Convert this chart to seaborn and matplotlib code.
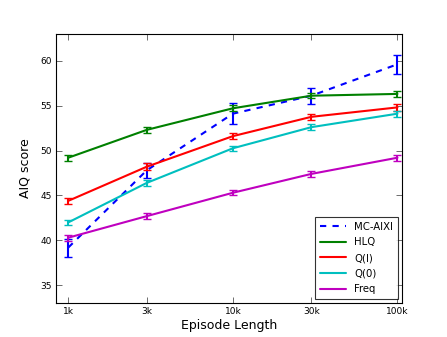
import numpy as np
import pandas as pd
import seaborn as sns
import matplotlib
matplotlib.use("Agg")
import matplotlib.pyplot as plt
from matplotlib.ticker import FixedLocator, FixedFormatter, NullLocator

# data
episode_length = [1000, 3000, 10000, 30000, 100000]
tick_labels = ["1k", "3k", "10k", "30k", "100k"]

mc_aixi = [39.2, 47.8, 54.1, 56.1, 59.6]
mc_aixi_err = [1.0, 0.85, 1.2, 0.9, 1.05]
hlq = [49.2, 52.3, 54.7, 56.1, 56.3]
hlq_err = [0.35, 0.35, 0.35, 0.3, 0.35]
q_l = [44.4, 48.2, 51.6, 53.75, 54.8]
q_l_err = [0.35, 0.4, 0.35, 0.35, 0.4]
q_0 = [42.0, 46.4, 50.25, 52.6, 54.1]
q_0_err = [0.3, 0.35, 0.3, 0.35, 0.35]
freq = [40.3, 42.7, 45.3, 47.4, 49.2]
freq_err = [0.35, 0.3, 0.3, 0.3, 0.35]

names = ["MC-AIXI", "HLQ", "Q(l)", "Q(0)", "Freq"]
series = [mc_aixi, hlq, q_l, q_0, freq]
errors = [mc_aixi_err, hlq_err, q_l_err, q_0_err, freq_err]
colors = ["#0000ff", "#008000", "#ff0000", "#00bfbf", "#bf00bf"]

rows = []
for name, vals in zip(names, series):
    for x, v in zip(episode_length, vals):
        rows.append({"Episode Length": x, "AIQ score": v, "agent": name})
df = pd.DataFrame(rows)

sns.set_style("white")
plt.rcParams["font.family"] = ["DejaVu Sans"]
plt.rcParams["text.color"] = "black"
plt.rcParams["axes.labelcolor"] = "black"
plt.rcParams["xtick.color"] = "black"
plt.rcParams["ytick.color"] = "black"

fig, ax = plt.subplots(figsize=(4.47, 3.37), dpi=100)
fig.subplots_adjust(left=0.125, right=0.9, bottom=0.1, top=0.9)

sns.lineplot(data=df, x="Episode Length", y="AIQ score", hue="agent", style="agent",
             hue_order=names, style_order=names, palette=colors,
             dashes={"MC-AIXI": (3, 3), "HLQ": "", "Q(l)": "", "Q(0)": "", "Freq": ""},
             linewidth=1.5, ax=ax)

for vals, errs, c in zip(series, errors, colors):
    ax.errorbar(episode_length, vals, yerr=errs, fmt="none", ecolor=c,
                elinewidth=1.5, capsize=3, capthick=1)

ax.set_xscale("log")
ax.set_xlim(841, 107000)
ax.set_ylim(33, 63)
ax.xaxis.set_major_locator(FixedLocator(episode_length))
ax.xaxis.set_major_formatter(FixedFormatter(tick_labels))
ax.xaxis.set_minor_locator(NullLocator())
ax.set_yticks([35, 40, 45, 50, 55, 60])

ax.tick_params(direction="in", length=4, width=0.6, labelsize=6.5, color="#555555",
               labelcolor="black", top=True, right=True, bottom=True, left=True, pad=3)
for sp in ax.spines.values():
    sp.set_color("black")
    sp.set_linewidth(0.8)

ax.set_xlabel("Episode Length", fontsize=9, labelpad=2)
ax.set_ylabel("AIQ score", fontsize=9, labelpad=6)

leg = ax.legend(loc="lower right", fontsize=7.3, frameon=True, fancybox=False,
                borderaxespad=0.4, handlelength=2.6, labelspacing=0.55,
                borderpad=0.5)
leg.get_frame().set_edgecolor("black")
leg.get_frame().set_linewidth(0.8)

fig.savefig("out.png", dpi=100)
